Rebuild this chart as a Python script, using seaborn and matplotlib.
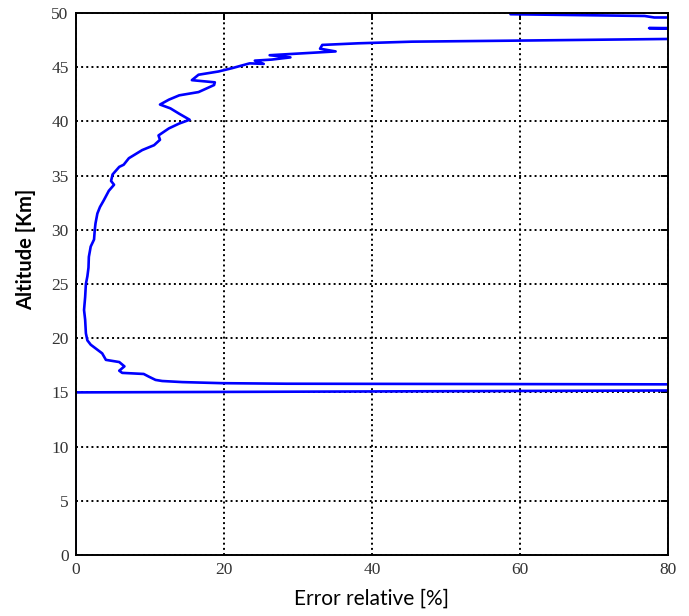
import matplotlib
matplotlib.use("Agg")
import matplotlib.pyplot as plt
import pandas as pd
import seaborn as sns

# altitude profile [km] and relative error [%]
altitude_km = [
    0.0, 15.0, 15.55, 15.8, 15.85, 15.95, 16.05, 16.15, 16.45, 16.7,
    16.8, 17.0, 17.4, 17.8, 18.0, 18.6, 19.4, 19.8, 20.45, 21.7,
    22.6, 23.8, 25.0, 25.7, 26.5, 27.5, 28.45, 29.1, 30.0, 30.6,
    31.5, 32.1, 32.7, 33.6, 34.15, 34.5, 35.1, 35.8, 36.0, 36.6,
    37.35, 37.8, 38.3, 38.7, 39.35, 39.8, 40.15, 40.7, 41.2, 41.55,
    42.0, 42.4, 42.7, 43.35, 43.6, 43.8, 44.3, 44.6, 44.9, 45.35,
    45.3, 45.6, 45.7, 45.9, 46.1, 46.25, 46.45, 46.7, 47.05, 47.2,
    47.35, 47.45, 47.6, 47.8, 48.6, 49.0, 49.5, 49.58, 49.72, 49.88,
]
error_pct = [
    0.0, 0.0, 250.0, 28.5, 19.8, 14.4, 11.7, 10.8, 9.9, 9.2,
    6.3, 5.9, 6.6, 5.9, 4.1, 3.6, 2.05, 1.6, 1.4, 1.3,
    1.15, 1.3, 1.4, 1.6, 1.75, 1.8, 2.05, 2.5, 2.6, 2.7,
    2.95, 3.3, 3.8, 4.5, 5.2, 4.8, 5.0, 5.9, 6.5, 7.2,
    9.0, 10.6, 11.4, 11.2, 12.6, 14.0, 15.4, 14.0, 12.8, 11.4,
    12.6, 14.0, 16.6, 18.7, 18.8, 15.7, 16.6, 19.3, 21.1, 23.5,
    25.4, 24.2, 26.5, 29.0, 26.2, 30.0, 35.1, 33.0, 33.3, 38.2,
    45.4, 60.0, 80.0, 150.0, 77.4, 400.0, 300.0, 78.1, 76.8, 58.7,
]

x_ticks = [0, 20, 40, 60, 80]
y_ticks = [0, 5, 10, 15, 20, 25, 30, 35, 40, 45, 50]

df = pd.DataFrame({"error": error_pct, "altitude": altitude_km})

sns.set_theme(style="white")
plt.rcParams["font.family"] = ["DejaVu Sans"]

fig = plt.figure(figsize=(6.89, 6.16), dpi=100)
ax = fig.add_axes([0.1096, 0.099, 0.8604, 0.880])

sns.lineplot(data=df, x="error", y="altitude", sort=False, estimator=None,
             color="#0000ff", linewidth=1.9, ax=ax)

ax.set_xlim(0, 80)
ax.set_ylim(0, 50)
ax.set_xticks(x_ticks)
ax.set_yticks(y_ticks)
ax.set_xticklabels([str(t) for t in x_ticks], family="Liberation Serif", fontsize=12.5)
ax.set_yticklabels([str(t) for t in y_ticks], family="Liberation Serif", fontsize=12.5)

ax.grid(True, color="black", linestyle=":", linewidth=1.4)
ax.set_axisbelow(True)
ax.tick_params(direction="in", length=5, width=1.4, top=True, right=True,
               colors="black", labelcolor="#333333", pad=5)
for spine in ax.spines.values():
    spine.set_color("black")
    spine.set_linewidth(1.4)

ax.set_xlabel("Error relative [%]", family="Lato", fontsize=15, color="black")
ax.set_ylabel("Altitude [Km]", family="Lato", fontsize=14.5, fontweight="bold",
              color="black")
ax.xaxis.set_label_coords(0.5, -0.062)
ax.yaxis.set_label_coords(-0.066, 0.564)

fig.savefig("out.png", dpi=100)
plt.close(fig)
